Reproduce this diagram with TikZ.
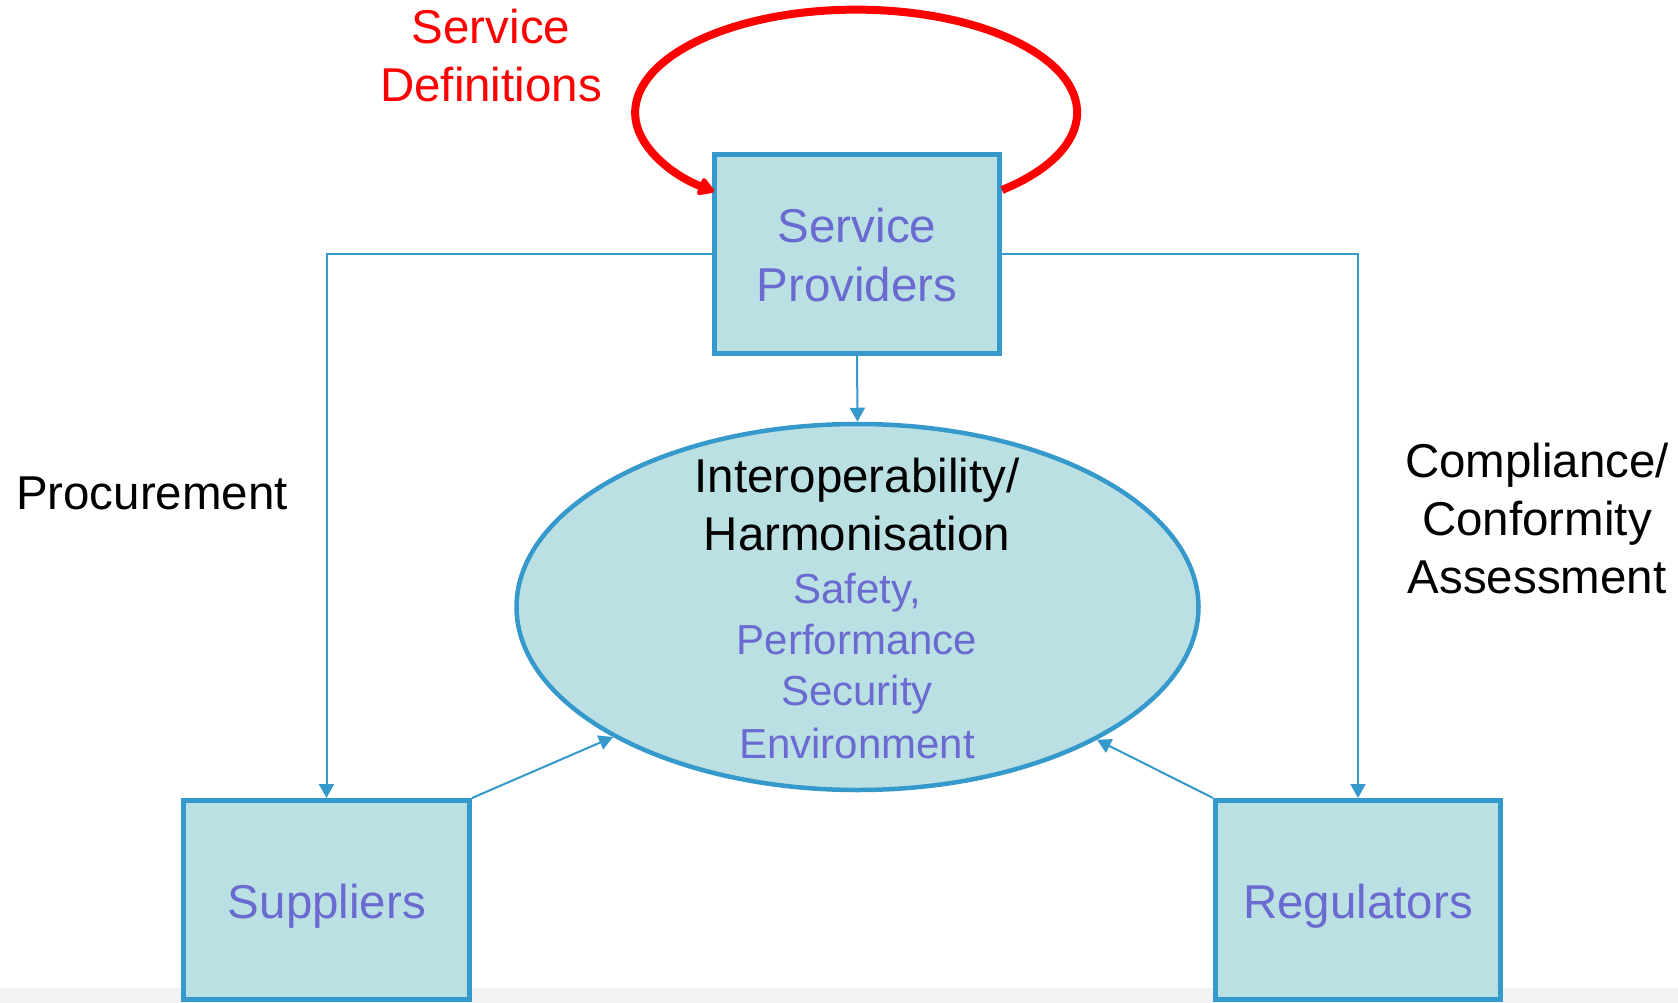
\documentclass[tikz,border=0pt]{standalone}
\usepackage{fontspec}
\setmainfont{Liberation Sans}
\usetikzlibrary{arrows.meta,shapes.geometric,calc}
\definecolor{boxfill}{RGB}{187,224,227}
\definecolor{boxline}{RGB}{54,153,204}
\definecolor{lbl}{RGB}{106,106,208}
\definecolor{band}{RGB}{242,242,242}
\begin{document}
\begin{tikzpicture}[x=1pt,y=-1pt,
  box/.style={draw=boxline, fill=boxfill, line width=5pt, minimum width=285pt, minimum height=199pt, inner sep=0pt, anchor=center},
  conn/.style={draw=boxline, line width=2pt, -{Triangle[length=14pt,width=15pt]}},
  big/.style={font=\fontsize{47.5}{57}\selectfont, anchor=base, inner sep=0pt},
  small/.style={font=\fontsize{42}{50}\selectfont, anchor=base, inner sep=0pt, text=lbl},
]
\useasboundingbox (0,0) rectangle (1678,1003);
\fill[band] (0,988) rectangle (1678,1003);

% nodes
\node[box] (sp) at (857,254) {};
\node[box, minimum width=286pt] (sup) at (326.5,900) {};
\node[box] (reg) at (1358,900) {};
\node[ellipse, draw=boxline, fill=boxfill, line width=4.5pt, minimum width=682pt, minimum height=366pt, inner sep=0pt] (hub) at (857.5,607) {};

% red self loop
\draw[red, line width=8pt, -{Triangle[length=18pt,width=20pt,round]}]
  ($(sp.north east)+(0,38)$) arc[start angle=-48.7, end angle=230, x radius=221pt, y radius=103pt];

% connectors
\draw[conn] (sp.south) -- (hub.north);
\draw[conn] (sp.west) -| (sup.north);
\draw[conn] (sp.east) -| (reg.north);
\draw[conn] (sup.north east) -- (hub.208);
\draw[conn] (reg.north west) -- (hub.331.7);

% texts
\node[big, text=red] (sd1) at (491,44) {Service};
\node[big, text=red] (sd2) at (491,102) {Definitions};
\node[big, text=lbl] (sp1) at (857,243) {Service};
\node[big, text=lbl] (sp2) at (857,301) {Providers};
\node[big] (h1) at (857,492) {Interoperability/};
\node[big] (h2) at (857,550) {Harmonisation};
\node[small] (h3) at (857,603) {Safety,};
\node[small] (h4) at (857,654) {Performance};
\node[small] (h5) at (857,705) {Security};
\node[small] (h6) at (857,758) {Environment};
\node[big] (proc) at (152,509) {Procurement};
\node[big] (c1) at (1537,477) {Compliance/};
\node[big] (c2) at (1537,535) {Conformity};
\node[big] (c3) at (1537,593) {Assessment};
\node[big, text=lbl] (supt) at (327,918) {Suppliers};
\node[big, text=lbl] (regt) at (1358,918) {Regulators};
\end{tikzpicture}
\end{document}
